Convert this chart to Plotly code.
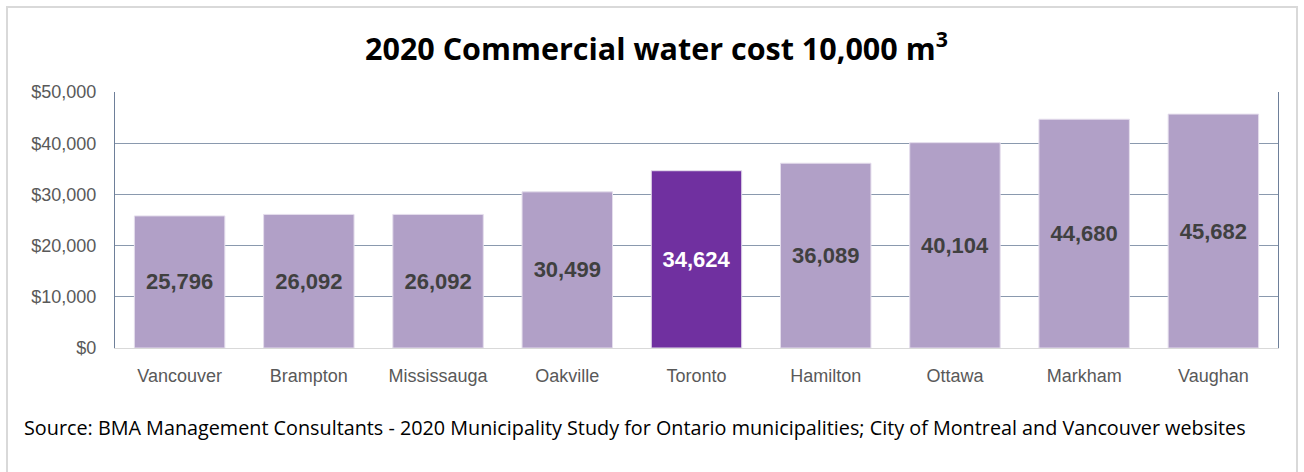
import plotly.graph_objects as go

cities = ["Vancouver", "Brampton", "Mississauga", "Oakville", "Toronto",
          "Hamilton", "Ottawa", "Markham", "Vaughan"]
costs = [25796, 26092, 26092, 30499, 34624, 36089, 40104, 44680, 45682]
highlight = "Toronto"

title_text = "2020 Commercial water cost 10,000 m<sup>3</sup>"
source_text = ("Source: BMA Management Consultants - 2020 Municipality Study for Ontario "
               "municipalities; City of Montreal and Vancouver websites")

light = "#B1A0C7"
dark = "#7030A0"
colors = [dark if c == highlight else light for c in cities]
text_colors = ["#FFFFFF" if c == highlight else "#404040" for c in cities]

W, H = 1304, 472
L, R, T, B = 115, 1278, 92, 348

fig = go.Figure(go.Bar(
    x=cities, y=costs,
    marker=dict(color=colors, line=dict(color="#E4DDEC", width=1)),
    text=[f"<b>{v:,}</b>" for v in costs],
    textposition="inside", insidetextanchor="middle",
    textfont=dict(family="Liberation Sans Narrow, Arial Narrow, Liberation Sans, Arial",
                  size=22, color=text_colors),
    cliponaxis=False,
))

def px_x(x):
    return (x - L) / (R - L)

def px_y(y):
    return (B - y) / (B - T)

fig.update_layout(
    width=W, height=H,
    margin=dict(l=L, r=W - R, t=T, b=H - B),
    paper_bgcolor="white", plot_bgcolor="white",
    bargap=0.30,
    showlegend=False,
    xaxis=dict(showline=True, linecolor="#D9D9D9", linewidth=1,
               ticks="outside", ticklen=11, tickcolor="rgba(0,0,0,0)",
               tickfont=dict(family="Liberation Sans, Arial", size=18, color="#595959"),
               showgrid=False),
    yaxis=dict(range=[0, 50000], dtick=10000, tickprefix="$", tickformat=",",
               showline=True, mirror=True, linecolor="#6E7F99", linewidth=1,
               showgrid=True, gridcolor="#8A99AE", gridwidth=1,
               ticks="outside", ticklen=14, tickcolor="rgba(0,0,0,0)",
               tickfont=dict(family="Liberation Sans, Arial", size=18, color="#595959"),
               zeroline=False),
    shapes=[dict(type="rect", xref="paper", yref="paper",
                 x0=px_x(7), x1=px_x(1297), y0=px_y(490), y1=px_y(7),
                 line=dict(color="#D9D9D9", width=2), fillcolor="rgba(0,0,0,0)",
                 layer="below")],
    annotations=[
        dict(text="<b>" + title_text + "</b>", xref="paper", yref="paper",
             x=px_x(656), y=px_y(46), xanchor="center", yanchor="middle",
             showarrow=False,
             font=dict(family="Open Sans, Lato, sans-serif", size=30.5, color="#000000")),
        dict(text=source_text, xref="paper", yref="paper",
             x=px_x(22), y=px_y(427), xanchor="left", yanchor="middle",
             showarrow=False,
             font=dict(family="Open Sans, Lato, sans-serif", size=19.8, color="#000000")),
    ],
)

fig.write_html("out.html")
